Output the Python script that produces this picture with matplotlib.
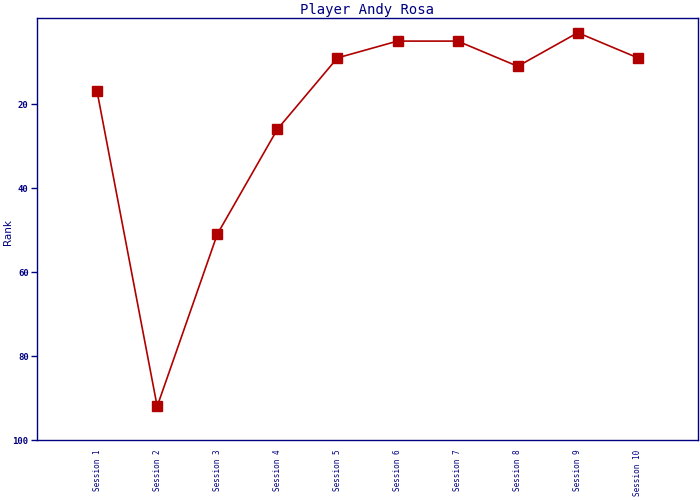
import matplotlib
matplotlib.use("Agg")
import matplotlib.pyplot as plt

# Data
sessions = ["Session %d" % i for i in range(1, 11)]
ranks = [17, 92, 51, 26, 9, 5, 5, 11, 3, 9]

navy = "#000080"
red = "#b00000"

fig = plt.figure(figsize=(7, 5), dpi=100)
ax = fig.add_axes([37 / 700, 60 / 500, 661 / 700, 422 / 500])

x = list(range(1, len(sessions) + 1))
ax.plot(x, ranks, color=red, linewidth=1.2, marker="s", markersize=7,
        markerfacecolor=red, markeredgecolor=red)

ax.set_xlim(0, 11)
ax.set_ylim(100, -0.5)
ax.set_xticks(x)
ax.set_xticklabels(sessions, rotation=90, fontsize=5.5, family="DejaVu Sans Mono",
                   color=navy, va="top")
ax.set_yticks([20, 40, 60, 80, 100])
ax.set_yticklabels(["20", "40", "60", "80", "100"], fontsize=6.5,
                   family="DejaVu Sans Mono", color=navy, fontweight="bold")
ax.tick_params(axis="x", length=0, pad=7)
ax.tick_params(axis="y", length=4, color=navy, width=1, pad=2)
for s in ax.spines.values():
    s.set_color(navy)
    s.set_linewidth(1)

# y label placed by hand, close to the figure edge like the reference
fig.text(8 / 700, 1 - 232 / 500, "Rank", color=navy, fontsize=7.5,
         rotation=90, ha="center", va="center")
ax.set_title("Player Andy Rosa", color=navy, fontsize=10, family="DejaVu Sans Mono", pad=3)

fig.savefig("out.png", dpi=100)
